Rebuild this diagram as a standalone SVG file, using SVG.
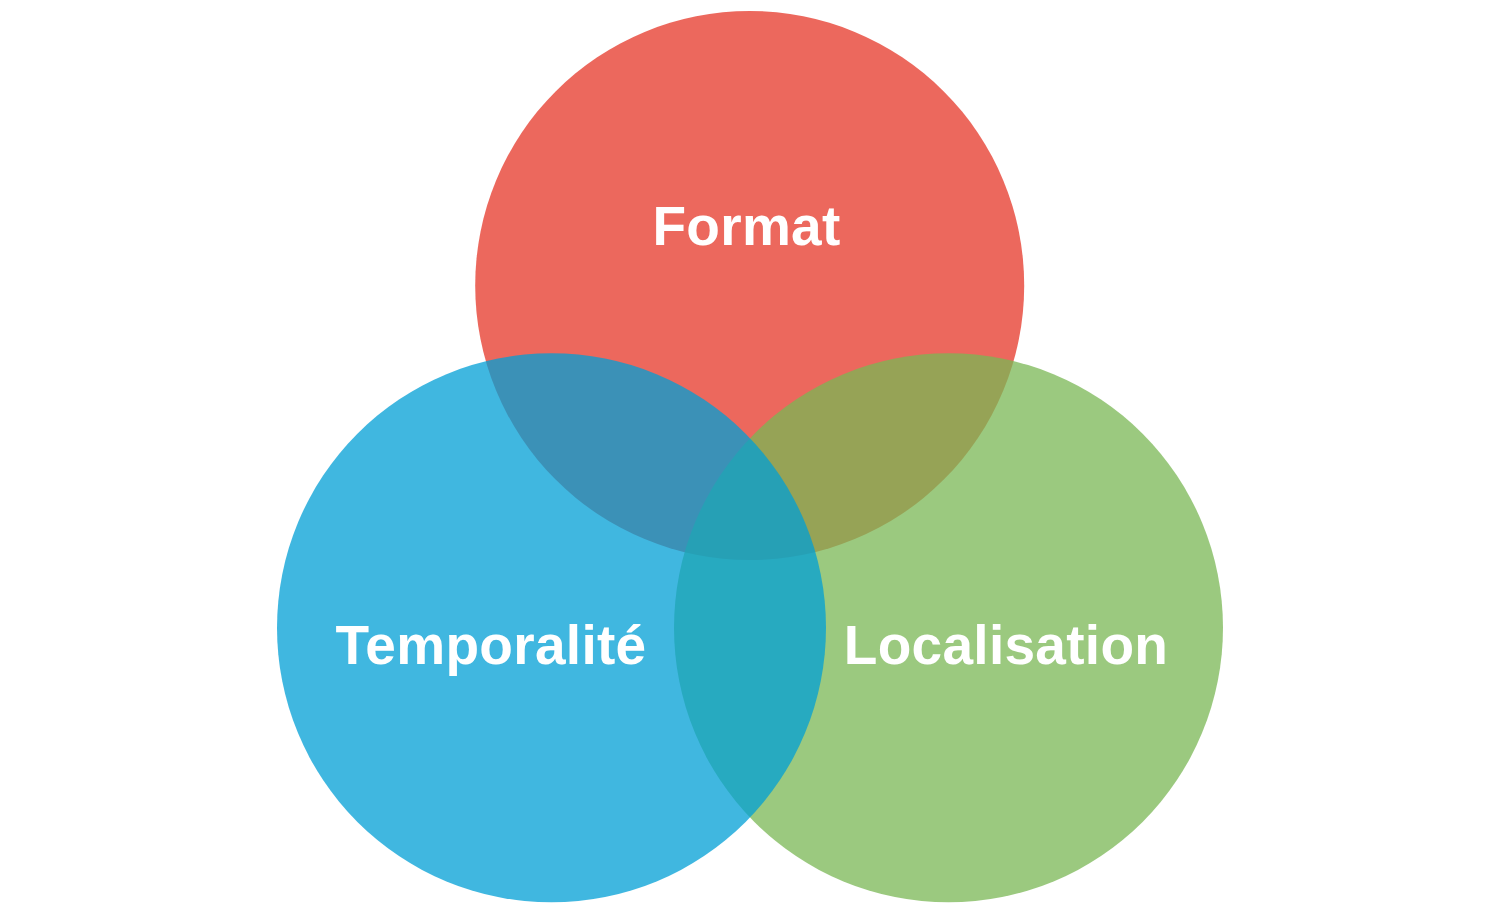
<svg xmlns="http://www.w3.org/2000/svg" width="1500" height="915" viewBox="0 0 1500 915">
  <style>
    .set { opacity: 0.75; }
    .label { font-family: "Liberation Sans", Arial, sans-serif; font-weight: bold; font-size: 55px; fill: #ffffff; text-anchor: middle; letter-spacing: 0.3px; }
  </style>
  <rect width="1500" height="915" fill="#ffffff"/>
  <g id="connectors"></g>
  <g id="format">
    <circle class="set" cx="749.7" cy="285.5" r="274.5" fill="#E63627"/>
  </g>
  <g id="localisation">
    <circle class="set" cx="948.5" cy="627.8" r="274.5" fill="#7AB754"/>
  </g>
  <g id="temporalite">
    <circle class="set" cx="551.5" cy="627.8" r="274.5" fill="#009FD6"/>
  </g>
  <g id="labels">
    <text class="label" x="746.5" y="245">Format</text>
    <text class="label" x="491" y="664">Temporalité</text>
    <text class="label" x="1006" y="664">Localisation</text>
  </g>
</svg>
